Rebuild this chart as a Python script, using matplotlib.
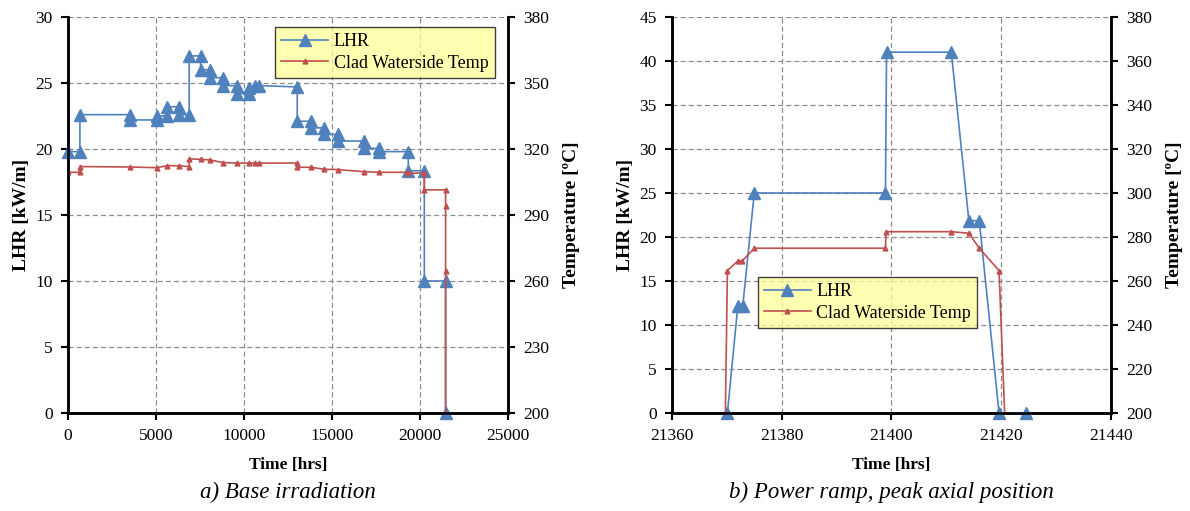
import matplotlib
matplotlib.use("Agg")
import matplotlib.pyplot as plt
from matplotlib.ticker import MultipleLocator, FixedLocator

# ---------------- data ----------------
# a) Base irradiation
time_lhr_a = [0, 680, 680, 3520, 3520, 5040, 5040, 5640, 5640, 6300, 6300, 6890, 6890,
              7540, 7540, 8070, 8070, 8830, 8830, 9580, 9580, 10260, 10260, 10620, 10870,
              13030, 13030, 13790, 13790, 14550, 14550, 15360, 15360, 16820, 16820,
              17670, 17670, 19340, 19340, 20250, 20250, 21460, 21460]
lhr_a = [19.8, 19.8, 22.6, 22.6, 22.2, 22.2, 22.5, 22.5, 23.2, 23.2, 22.6, 22.6, 27.05,
         27.05, 26.0, 26.0, 25.4, 25.4, 24.8, 24.8, 24.2, 24.2, 24.6, 24.8, 24.8,
         24.7, 22.1, 22.1, 21.6, 21.6, 21.1, 21.1, 20.6, 20.6, 20.05,
         20.05, 19.8, 19.8, 18.35, 18.35, 10.0, 10.0, 0.0]
time_temp_a = [0, 680, 680, 3520, 5040, 5640, 6300, 6890, 6890, 7540, 8070, 8830, 9580,
               10260, 10620, 10870, 13030, 13030, 13790, 14550, 15360, 16820, 17670,
               19340, 19340, 20250, 20250, 21460, 21460, 21460, 21460]
temp_a = [309.4, 309.4, 312.0, 311.8, 311.5, 312.4, 312.4, 312.0, 315.5, 315.3, 315.0,
          313.8, 313.6, 313.6, 313.6, 313.6, 313.6, 311.7, 311.7, 310.8, 310.6, 309.7,
          309.4, 309.4, 308.9, 309.2, 301.4, 301.4, 294.0, 264.5, 195.0]

# b) Power ramp, peak axial position
time_lhr_b = [21370.1, 21372.0, 21372.9, 21375.0, 21398.9, 21399.1, 21410.9, 21414.1,
              21416.0, 21419.6, 21424.6]
lhr_b = [0, 12.2, 12.2, 25.0, 25.0, 41.0, 41.0, 21.85, 21.85, 0, 0]
time_temp_b = [21369.7, 21370.1, 21372.0, 21372.8, 21375.0, 21398.9, 21399.0, 21410.9,
               21414.1, 21416.0, 21419.6, 21420.7]
temp_b = [195.0, 264.7, 269.1, 269.1, 274.9, 274.9, 282.4, 282.4, 281.7, 274.9, 264.7, 195.0]

temp_ticks_a = [200, 230, 260, 290, 320, 350, 380]
temp_ticks_b = [200, 220, 240, 260, 280, 300, 320, 340, 360, 380]

series_names = ["LHR", "Clad Waterside Temp"]
captions = ["a) Base irradiation", "b) Power ramp, peak axial position"]
xlabel = "Time [hrs]"
ylabel_left = "LHR [kW/m]"
ylabel_right = "Temperature [ºC]"

# ---------------- style ----------------
plt.rcParams['font.family'] = ['Liberation Serif', 'DejaVu Serif']
BLUE = '#4F81BD'
RED = '#C0504D'
GRID = '#8C8C8C'

fig = plt.figure(figsize=(11.9, 5.11), dpi=100)

def style_axes(ax, tw):
    for a in (ax, tw):
        a.spines['top'].set_visible(False)
        for s in ('left', 'right', 'bottom'):
            a.spines[s].set_linewidth(1.8)
        a.tick_params(labelsize=12.5, width=1.5, length=5, direction='out', pad=6)
    ax.grid(True, color=GRID, linestyle=(0, (4, 2.5)), linewidth=0.9)
    ax.set_axisbelow(True)

def make_panel(rect, tx_lhr, y_lhr, tx_t, y_t, xlim, xstep, ylim_l, ystep_l,
               temp_ticks, leg_anchor, leg_loc):
    ax = fig.add_axes(rect)
    tw = ax.twinx()
    l1, = ax.plot(tx_lhr, y_lhr, color=BLUE, lw=1.2, marker='^', ms=8,
                  mfc=BLUE, mec=BLUE, label=series_names[0], clip_on=False, zorder=3)
    l2, = tw.plot(tx_t, y_t, color=RED, lw=1.2, marker='^', ms=3.5,
                  mfc=RED, mec=RED, label=series_names[1])
    ax.set_xlim(*xlim)
    ax.set_ylim(*ylim_l)
    tw.set_ylim(200, 380)
    ax.xaxis.set_major_locator(MultipleLocator(xstep))
    ax.yaxis.set_major_locator(MultipleLocator(ystep_l))
    tw.yaxis.set_major_locator(FixedLocator(temp_ticks))
    style_axes(ax, tw)
    ax.set_xlabel(xlabel, fontsize=12.5, fontweight='bold', labelpad=9)
    ax.set_ylabel(ylabel_left, fontsize=14, fontweight='bold', labelpad=4)
    tw.set_ylabel(ylabel_right, fontsize=14, fontweight='bold', labelpad=10)
    leg = tw.legend([l1, l2], series_names, loc=leg_loc, bbox_to_anchor=leg_anchor,
                    fontsize=13, frameon=True, fancybox=False, framealpha=0.75,
                    facecolor='#FFFF99', edgecolor='black', handlelength=2.6,
                    borderpad=0.35, labelspacing=0.25, handletextpad=0.3,
                    borderaxespad=0)
    leg.get_frame().set_linewidth(1.0)
    return ax, tw

axA, twA = make_panel([0.0571, 0.1918, 0.3697, 0.775], time_lhr_a, lhr_a,
                      time_temp_a, temp_a, (0, 25000), 5000, (0, 30), 5,
                      temp_ticks_a, (0.97, 0.975), 'upper right')
axB, twB = make_panel([0.5647, 0.1918, 0.3689, 0.775], time_lhr_b, lhr_b,
                      time_temp_b, temp_b, (21360, 21440), 20, (0, 45), 5,
                      temp_ticks_b, (0.195, 0.344), 'upper left')

fig.text(0.242, 0.025, captions[0], fontsize=16.5, style='italic', ha='center')
fig.text(0.749, 0.025, captions[1], fontsize=16.5, style='italic', ha='center')

fig.savefig('out.png', dpi=100)
